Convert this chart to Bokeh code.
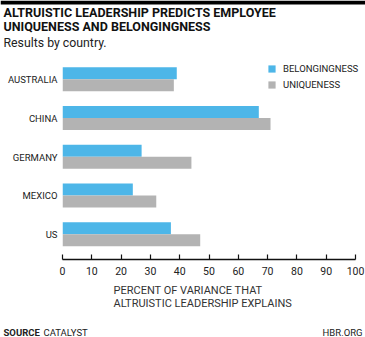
from bokeh.plotting import figure
from bokeh.layouts import column
from bokeh.models import (FactorRange, Label, Legend, LegendItem, ColumnDataSource, Range1d,
                          FixedTicker, BoxAnnotation)
from bokeh.transform import dodge
from bokeh.embed import file_html
from bokeh.resources import INLINE

countries = ["AUSTRALIA", "CHINA", "GERMANY", "MEXICO", "US"]
belongingness = [39, 67, 27, 24, 37]
uniqueness = [38, 71, 44, 32, 47]
series_names = ["BELONGINGNESS", "UNIQUENESS"]
x_ticks = [0, 10, 20, 30, 40, 50, 60, 70, 80, 90, 100]

title_lines = ["ALTRUISTIC LEADERSHIP PREDICTS EMPLOYEE", "UNIQUENESS AND BELONGINGNESS"]
subtitle = "Results by country."
xlabel_lines = ["PERCENT OF VARIANCE THAT", "ALTRUISTIC LEADERSHIP EXPLAINS"]
source_label = "SOURCE"
source_text = "CATALYST"
credit = "HBR.ORG"

BLUE = "#4db6e8"
GRAY = "#b3b3b3"
FONT = "Roboto"
TXT = "#222222"

W = 365
HEAD_H = 54      # page y of plot frame top
FRAME_B = 259    # page y of x axis line
MAIN_H = 230     # main figure: 54 .. 284
FOOT_H = 337 - HEAD_H - MAIN_H
RULE_H = 4


def blank(h):
    f = figure(width=W, height=h, output_backend="svg", toolbar_location=None, min_border=0,
               x_range=Range1d(0, 1), y_range=Range1d(0, 1),
               x_axis_location=None, y_axis_location=None, frame_align=False)
    f.title.visible = False
    f.outline_line_color = None
    f.grid.visible = False
    return f


def lab(fig, h, X, Y, text, size, bold=False, align="left", color=TXT):
    # X, Y are pixels within that figure (from its top-left); screen units count from bottom-left
    fig.add_layout(Label(x=X, y=h - Y, x_units="screen", y_units="screen", text=text,
                         text_font=FONT, text_font_size=size, text_align=align,
                         text_baseline="middle", text_color=color,
                         text_font_style="bold" if bold else "normal"))


# ---- header ----
head = blank(HEAD_H)
head.add_layout(BoxAnnotation(bottom=1 - RULE_H / HEAD_H, top=1, fill_color="black",
                              fill_alpha=1, line_color=None))
lab(head, HEAD_H, 3, 12, title_lines[0], "12.5px", bold=True, color="#111111")
lab(head, HEAD_H, 3, 26, title_lines[1], "12.5px", bold=True, color="#111111")
lab(head, HEAD_H, 3, 42.5, subtitle, "12.3px")

# ---- main plot ----
src = ColumnDataSource(dict(country=countries, belong=belongingness, uniq=uniqueness))

p = figure(width=W, height=MAIN_H,
           y_range=FactorRange(*reversed(countries), range_padding=0.145, range_padding_units="absolute"),
           x_range=Range1d(0, 100 * 303 / 293),
           output_backend="svg", toolbar_location=None, frame_align=False,
           min_border_left=62, min_border_right=0, min_border_top=0,
           min_border_bottom=MAIN_H - (FRAME_B - HEAD_H))
p.title.visible = False
p.outline_line_color = None
p.xgrid.visible = False
p.ygrid.visible = False

r1 = p.hbar(y=dodge("country", 0.159, range=p.y_range), right="belong", left=0, height=0.31,
            source=src, color=BLUE, line_color=None)
r2 = p.hbar(y=dodge("country", -0.151, range=p.y_range), right="uniq", left=0, height=0.31,
            source=src, color=GRAY, line_color=None)

p.yaxis.axis_line_color = None
p.yaxis.major_tick_line_color = None
p.yaxis.major_tick_in = 0
p.yaxis.major_tick_out = 0
p.yaxis.minor_tick_line_color = None
p.yaxis.major_label_standoff = 5
p.yaxis.major_label_text_font = FONT
p.yaxis.major_label_text_font_size = "9.5px"
p.yaxis.major_label_text_color = TXT

p.xaxis.ticker = FixedTicker(ticks=x_ticks)
p.xaxis.bounds = (0, 100)
p.xaxis.axis_line_color = "#111111"
p.xaxis.axis_line_width = 1.5
p.xaxis.major_tick_line_color = "#111111"
p.xaxis.major_tick_line_width = 1.2
p.xaxis.major_tick_in = 5
p.xaxis.major_tick_out = 0
p.xaxis.minor_tick_line_color = None
p.xaxis.major_label_standoff = 7
p.xaxis.major_label_text_font = FONT
p.xaxis.major_label_text_font_size = "10.5px"
p.xaxis.major_label_text_color = TXT

legend = Legend(items=[LegendItem(label=series_names[0], renderers=[r1]),
                       LegendItem(label=series_names[1], renderers=[r2])],
                location=(205, 169), orientation="vertical",
                glyph_width=9, glyph_height=9, label_height=9, spacing=5, padding=0, margin=0,
                label_standoff=7, border_line_color=None, background_fill_alpha=0,
                label_text_font=FONT, label_text_font_size="9.5px", label_text_color=TXT)
p.add_layout(legend)

# ---- footer ----
foot = blank(FOOT_H)
off = HEAD_H + MAIN_H
lab(foot, FOOT_H, 113, 290 - off, xlabel_lines[0], "11px", color="#333333")
lab(foot, FOOT_H, 113, 303 - off, xlabel_lines[1], "11px", color="#333333")
lab(foot, FOOT_H, 3, 331.5 - off, source_label, "9.5px", bold=True)
lab(foot, FOOT_H, 43, 331.5 - off, source_text, "9.5px")
lab(foot, FOOT_H, 362, 331.5 - off, credit, "9.5px", align="right")

open("out.html", "w").write(file_html(column(head, p, foot, spacing=0), INLINE))
